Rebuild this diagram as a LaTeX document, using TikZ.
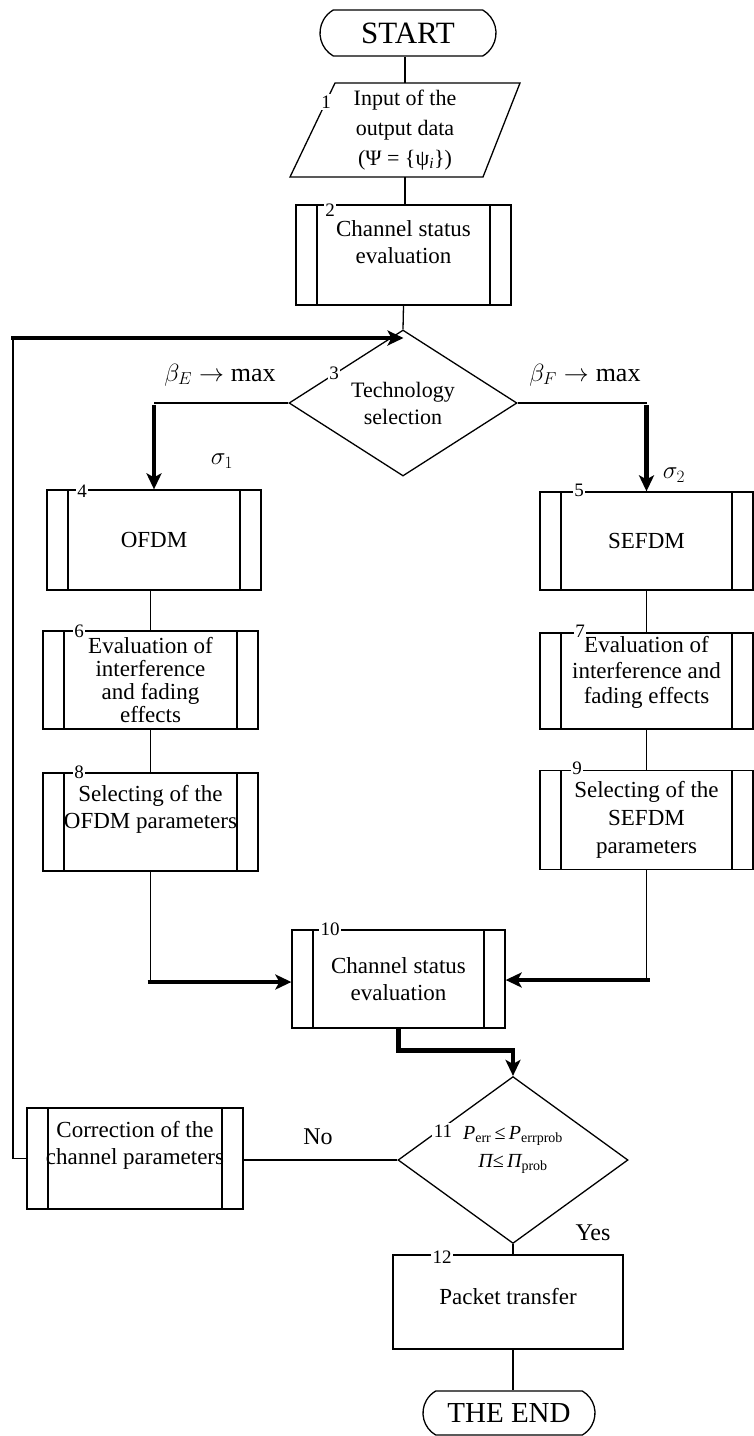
\documentclass[tikz,border=0pt]{standalone}
\usepackage{fontspec}
\setmainfont{Liberation Serif}
\usetikzlibrary{shapes.misc,shapes.geometric,arrows.meta,calc}
\newcommand\myfs[2]{\fontsize{#1}{#2}\selectfont}
\tikzset{
  ln/.style={line width=1.3pt},
  thk/.style={line width=4.5pt},
  arr/.style={-{Stealth[length=16pt,width=15pt,inset=4pt]}},
  procbox/.style 2 args={draw, line width=1.3pt, inner sep=0pt, align=center,
    minimum width=#1pt, minimum height=#2pt, font=\myfs{23}{27},
    path picture={\draw[line width=1.3pt]
      ([xshift=21pt]path picture bounding box.north west) -- ([xshift=21pt]path picture bounding box.south west)
      ([xshift=-21pt]path picture bounding box.north east) -- ([xshift=-21pt]path picture bounding box.south east);}},
  plainbox/.style 2 args={draw, line width=1.3pt, inner sep=0pt, align=center,
    minimum width=#1pt, minimum height=#2pt, font=\myfs{23}{27}},
  term/.style={draw, line width=1.3pt, rounded rectangle, rounded rectangle arc length=120,
    minimum width=176pt, minimum height=46pt, inner sep=0pt, font=\myfs{31}{32}},
  dec/.style={draw, line width=1.3pt, diamond, inner sep=0pt, align=center},
  num/.style={fill=white, inner sep=1.5pt, font=\myfs{19}{19}},
  lbl/.style={inner sep=0pt, font=\myfs{24}{24}},
}
\begin{document}
\begin{tikzpicture}[x=1pt,y=-1pt]
\useasboundingbox (0,0) rectangle (754,1436);

% nodes
\node[term] (start) at (408,33) {START};
\node[inner sep=0pt, minimum height=94pt, align=center, font=\myfs{22}{30}] (p1) at (405,130)
  {Input of the\\output data\\(Ψ = \{ψ\textsubscript{\textit{i}}\})};
\draw[ln] (335,83) -- (520,83) -- (483,177) -- (290,177) -- cycle;

\node[procbox={215}{100}] (b2) at (403.5,255) {Channel status\\evaluation\\[-1pt]\mbox{}};
\node[dec, minimum width=228pt, minimum height=112pt, font=\myfs{22}{27}] (d3) at (403,403) {Technology\\selection};

\node[procbox={214}{100}] (b4) at (154,540) {OFDM};
\node[procbox={213}{98}] (b5) at (646.5,541) {SEFDM};
\node[procbox={215}{98}, font=\myfs{23}{22.7}] (b6) at (150.5,680) {Evaluation of\\interference\\and fading\\effects};
\node[procbox={213}{96}, font=\myfs{23}{25.5}] (b7) at (646.5,681) {Evaluation of\\interference and\\fading effects\\[-4pt]\mbox{}};
\node[procbox={215}{98}] (b8) at (150.5,822) {Selecting of the\\OFDM parameters\\[4pt]\mbox{}};
\node[procbox={213}{99}, font=\myfs{23}{28}] (b9) at (646.5,820) {Selecting of the\\SEFDM\\parameters};
\node[procbox={213}{98}] (b10) at (398.5,979) {Channel status\\evaluation};
\node[dec, minimum width=230pt, minimum height=118pt, font=\myfs{20}{28}] (d11) at (513,1160)
  {{\itshape P}\textsubscript{err}\,≤\,{\itshape P}\textsubscript{errprob}\\{\itshape Π}≤\,{\itshape Π}\textsubscript{prob}\\[-2pt]\mbox{}};
\node[procbox={216}{101}] (corr) at (135,1158.5) {Correction of the\\channel parameters\\[4pt]\mbox{}};
\node[plainbox={230}{94}] (b12) at (508,1302) {Packet transfer\\[-15pt]\mbox{}};
\node[term, minimum width=172pt, minimum height=44pt, font=\myfs{29}{30}] (end) at (509,1413) {THE END};

% connectors
\coordinate (lpc) at (13,338);
\coordinate (cL) at (150.5,982);
\coordinate (cR) at (646.5,980);
\draw[ln] (p1.north) -- (p1.north |- start.south);
\draw[ln] (p1.south) -- (p1.south |- b2.north);
\draw[ln] (b2.south) -- (d3.north);
\draw[ln] (d3.west) -- (b4.north |- d3.west);
\draw[thk,arr] ([yshift=-2]b4.north |- d3.west) -- (b4.north);
\draw[ln] (d3.east) -- (b5.north |- d3.east);
\draw[thk,arr] ([yshift=-2]b5.north |- d3.east) -- (b5.north);
\draw[ln] (b6.north |- b4.south) -- (b6.north);
\draw[ln] (b6.south) -- (b8.north);
\draw[ln] (b5.south) -- (b7.north);
\draw[ln] (b7.south) -- (b9.north);
\draw[ln] (b8.south) -- (cL);
\draw[thk,arr] ([xshift=-3]cL) -- (b10.west |- cL);
\draw[ln] (b9.south) -- (cR);
\draw[thk,arr] ([xshift=3]cR) -- (b10.east |- cR);
\draw[thk,arr] (b10.south) -- ++(0,22) -| (d11.north);
\draw[ln] (d11.west) -- (corr.east |- d11.west);
\draw[ln] (corr.west) -| (lpc);
\draw[thk,arr] ([xshift=-2]lpc) -- (b2.south |- lpc);
\draw[ln] (d11.south) -- (d11.south |- b12.north);
\draw[ln] (d11.south |- b12.south) -- (d11.south |- end.north);

% numbers
\node[num] (k1) at (326,102) {1};
\node[num] (k2) at (330,210) {2};
\node[num] (k3) at (334,373) {3};
\node[num] (k4) at (82,491) {4};
\node[num] (k5) at (579,490) {5};
\node[num] (k6) at (79,631) {6};
\node[num] (k7) at (580,631) {7};
\node[num] (k8) at (79,772) {8};
\node[num] (k9) at (577,768) {9};
\node[num] (k10) at (330,929) {10};
\node[num] (k11) at (443,1131) {11};
\node[num] (k12) at (442,1257) {12};

% labels
\node[lbl, font=\myfs{26}{26}] (be) at (220,375) {$\beta_E \rightarrow \max$};
\node[lbl, font=\myfs{26}{26}] (bf) at (585,375) {$\beta_F \rightarrow \max$};
\node[lbl, font=\myfs{26}{26}] (s1) at (222,461) {$\sigma_1$};
\node[lbl, font=\myfs{26}{26}] (s2) at (674,475) {$\sigma_2$};
\node[lbl] (no) at (318,1137) {No};
\node[lbl] (yes) at (593,1233) {Yes};
\end{tikzpicture}
\end{document}
